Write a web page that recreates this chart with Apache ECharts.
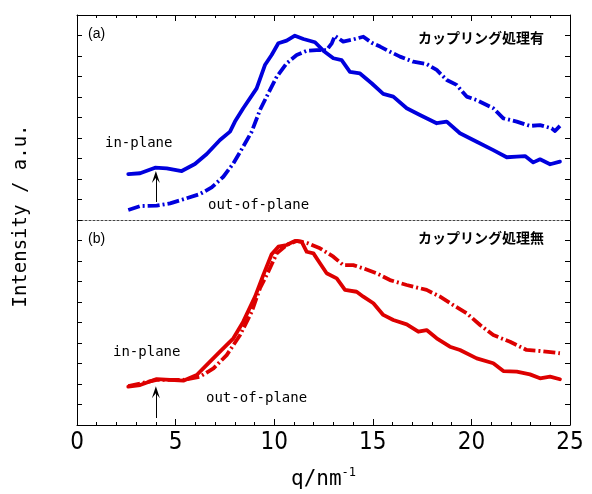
<!DOCTYPE html>
<html>
<head>
<meta charset="utf-8">
<script src="https://cdn.jsdelivr.net/npm/echarts@6/dist/echarts.min.js"></script>
<style>
  html, body { margin: 0; padding: 0; background: #fff; }
  #main { width: 592px; height: 494px; }
</style>
</head>
<body>
<div id="main"></div>
<script>
// q axis (nm^-1)
var xTicks = [0, 5, 10, 15, 20, 25];

// (a) カップリング処理有 -- in-plane
var qAIn = [2.6, 3.2, 3.96, 4.55, 5.31, 5.98, 6.58, 7.25, 7.76, 8.01, 8.43, 9.11, 9.53, 9.87, 10.21, 10.63, 11.05, 11.48, 12.07, 12.49, 13.0, 13.42, 13.84, 14.35, 14.94, 15.53, 16.04, 16.72, 17.39, 18.24, 18.75, 19.42, 20.27, 21.11, 21.79, 22.3, 22.72, 23.14, 23.48, 23.99, 24.49];
var iAIn = [2.24, 2.28, 2.55, 2.52, 2.39, 2.73, 3.22, 3.9, 4.31, 4.8, 5.45, 6.42, 7.56, 8.05, 8.62, 8.75, 8.99, 8.83, 8.67, 8.26, 7.89, 7.8, 7.23, 7.15, 6.67, 6.15, 6.02, 5.45, 5.12, 4.72, 4.8, 4.23, 3.82, 3.41, 3.06, 3.09, 3.12, 2.81, 2.96, 2.72, 2.85];

// (a) out-of-plane
var qAOut = [2.6, 3.2, 4.04, 4.72, 5.56, 6.24, 6.83, 7.42, 7.93, 8.43, 8.86, 9.28, 9.7, 10.13, 10.63, 11.14, 11.65, 12.15, 12.66, 12.92, 13.08, 13.5, 14.01, 14.52, 14.94, 15.37, 15.87, 16.38, 17.05, 17.73, 18.24, 18.75, 19.25, 19.76, 20.27, 21.11, 21.62, 22.3, 22.97, 23.48, 24.07, 24.24, 24.49];
var iAOut = [0.49, 0.68, 0.7, 0.81, 1.06, 1.27, 1.59, 2.11, 2.76, 3.58, 4.31, 5.37, 6.18, 6.99, 7.64, 8.05, 8.26, 8.29, 8.29, 8.62, 8.98, 8.7, 8.81, 8.94, 8.65, 8.46, 8.21, 7.97, 7.72, 7.61, 7.32, 6.83, 6.59, 6.02, 5.85, 5.45, 4.96, 4.8, 4.59, 4.63, 4.47, 4.34, 4.59];

// (b) カップリング処理無 -- in-plane
var qBIn = [2.6, 3.2, 4.04, 4.72, 5.39, 6.07, 6.58, 7.25, 7.93, 8.43, 9.03, 9.45, 9.87, 10.21, 10.63, 11.05, 11.39, 11.65, 11.99, 12.32, 12.66, 13.17, 13.59, 14.18, 14.52, 15.03, 15.53, 16.04, 16.72, 17.31, 17.73, 18.24, 18.91, 19.42, 20.27, 21.11, 21.62, 22.3, 22.97, 23.48, 23.99, 24.49];
var iBIn = [1.87, 1.95, 2.24, 2.2, 2.16, 2.44, 2.93, 3.58, 4.23, 5.04, 6.26, 7.32, 8.33, 8.7, 8.78, 8.98, 8.94, 8.45, 8.37, 7.89, 7.4, 7.15, 6.59, 6.5, 6.26, 5.94, 5.37, 5.12, 4.91, 4.55, 4.63, 4.23, 3.82, 3.66, 3.25, 3.01, 2.63, 2.6, 2.47, 2.28, 2.36, 2.23];

// (b) out-of-plane
var qBOut = [2.6, 4.04, 5.39, 6.24, 6.92, 7.59, 8.27, 8.86, 9.28, 9.7, 10.13, 10.63, 11.14, 11.73, 12.32, 13.0, 13.5, 14.01, 14.52, 15.2, 15.87, 16.72, 17.73, 18.41, 19.08, 19.76, 20.44, 21.11, 21.96, 22.8, 23.48, 24.49];
var iBOut = [1.9, 2.2, 2.2, 2.36, 2.76, 3.41, 4.39, 5.53, 6.67, 7.48, 8.37, 8.78, 8.98, 8.86, 8.62, 8.21, 7.8, 7.8, 7.64, 7.4, 7.07, 6.83, 6.59, 6.26, 5.85, 5.45, 4.88, 4.39, 4.06, 3.66, 3.61, 3.5];

// arrows at q = 4 (from, to)
var arrowQ = 4;
var arrowA = [0.88, 2.1];
var arrowB = [0.34, 1.6];

function zip(xs, ys) {
  var out = [];
  for (var i = 0; i < xs.length; i++) out.push([xs[i], ys[i]]);
  return out;
}

var BLUE = '#0000dd';
var RED = '#dd0000';
var DASH = [12, 3, 2, 3];
var MONO = '"DejaVu Sans Mono", "Liberation Mono", monospace';
var NARROW = '"Liberation Sans Narrow", "DejaVu Sans Condensed", sans-serif';
var CJK = '"Noto Sans CJK JP", sans-serif';

var chart = echarts.init(document.getElementById('main'), null, { renderer: 'canvas' });

function xAx(grid, pos, labels) {
  return {
    type: 'value', gridIndex: grid, position: pos, min: 0, max: 25, interval: 5,
    axisLine: { show: true, onZero: false, lineStyle: { color: '#000', width: 1 } },
    axisTick: { show: true, inside: true, length: 6, lineStyle: { color: '#000' } },
    minorTick: { show: true, splitNumber: 5, length: 3, lineStyle: { color: '#000' } },
    axisLabel: { show: labels, color: '#000', fontSize: 24, fontFamily: NARROW, margin: 6 },
    splitLine: { show: false }, minorSplitLine: { show: false }
  };
}
function yAx(grid, pos) {
  return {
    type: 'value', gridIndex: grid, position: pos, min: 0, max: 10, interval: 1,
    axisLine: { show: true, onZero: false, lineStyle: { color: '#000', width: 1 } },
    axisTick: { show: true, inside: true, length: 5, lineStyle: { color: '#000' } },
    axisLabel: { show: false },
    splitLine: { show: false }
  };
}

var xb = xAx(1, 'bottom', true);
xb.name = '{q|q/nm}{s|-1}';
xb.nameLocation = 'middle';
xb.nameGap = 42;
xb.nameTextStyle = {
  rich: {
    q: { fontSize: 21, fontFamily: MONO, color: '#000' },
    s: { fontSize: 12, fontFamily: MONO, color: '#000', verticalAlign: 'top', padding: [0, 0, 14, 0] }
  }
};

var sepAxis = {
  type: 'value', gridIndex: 0, position: 'bottom', min: 0, max: 25,
  axisLine: { show: true, onZero: false, lineStyle: { color: '#444', width: 1, type: [2, 2] } },
  axisTick: { show: false }, axisLabel: { show: false }, splitLine: { show: false }
};

function arrowLine(from, to) {
  return {
    silent: true,
    symbol: ['none', 'path://M0,11 L5,0 L10,11 L5,6.5 Z'],
    symbolSize: [8, 12],
    label: { show: false },
    lineStyle: { color: '#000', width: 1, type: 'solid' },
    data: [[{ coord: [arrowQ, from] }, { coord: [arrowQ, to] }]]
  };
}

function line(name, grid, data, color, dashed, mark) {
  var s = {
    name: name, type: 'line', xAxisIndex: grid === 0 ? 0 : 2, yAxisIndex: grid === 0 ? 0 : 2,
    data: data, symbol: 'none', smooth: false, animation: false,
    lineStyle: { color: color, width: 3.8, type: dashed ? DASH : 'solid', cap: dashed ? 'butt' : 'round', join: 'round' }
  };
  if (mark) s.markLine = mark;
  return s;
}

function txt(x, y, text, font, size, weight, align) {
  return {
    type: 'text', left: x, top: y,
    style: { text: text, font: (weight || 'normal') + ' ' + size + 'px ' + font, fill: '#000', textVerticalAlign: 'middle', textAlign: align || 'left' }
  };
}

var option = {
  animation: false,
  backgroundColor: '#fff',
  grid: [
    { left: 77, right: 22, top: 15, height: 205 },
    { left: 77, right: 22, top: 220, height: 205 }
  ],
  xAxis: [xAx(0, 'top', false), sepAxis, xb],
  yAxis: [yAx(0, 'left'), yAx(0, 'right'), yAx(1, 'left'), yAx(1, 'right')],
  series: [
    line('a in-plane', 0, zip(qAIn, iAIn), BLUE, false, arrowLine(arrowA[0], arrowA[1])),
    line('a out-of-plane', 0, zip(qAOut, iAOut), BLUE, true),
    line('b in-plane', 1, zip(qBIn, iBIn), RED, false, arrowLine(arrowB[0], arrowB[1])),
    line('b out-of-plane', 1, zip(qBOut, iBOut), RED, true)
  ],
  graphic: [
    txt(88, 27, '(a)', '"Liberation Sans", sans-serif', 14),
    txt(88, 232, '(b)', '"Liberation Sans", sans-serif', 14),
    txt(418, 31, 'カップリング処理有', CJK, 14, 'bold'),
    txt(418, 231, 'カップリング処理無', CJK, 14, 'bold'),
    txt(105, 136, 'in-plane', MONO, 14),
    txt(208, 198, 'out-of-plane', MONO, 14),
    txt(113, 345, 'in-plane', MONO, 14),
    txt(206, 391, 'out-of-plane', MONO, 14),
    {
      type: 'text', x: 21, y: 216, rotation: Math.PI / 2,
      style: { text: 'Intensity / a.u.', font: '19px ' + MONO, fill: '#000', textAlign: 'center', textVerticalAlign: 'middle' }
    }
  ]
};

chart.setOption(option);
</script>
</body>
</html>
